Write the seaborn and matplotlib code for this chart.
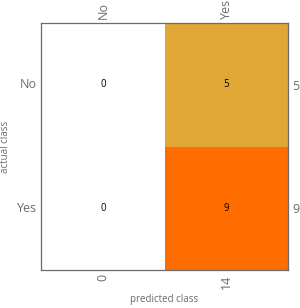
import numpy as np
import pandas as pd
import matplotlib
matplotlib.use("Agg")
import matplotlib.pyplot as plt
import seaborn as sns
from matplotlib.colors import LinearSegmentedColormap

# data
labels = ["No", "Yes"]
counts = [[0, 5],
          [0, 9]]
row_totals = ["5", "9"]
col_totals = ["0", "14"]

sns.set_style("white")
plt.rcParams['font.family'] = ['Open Sans', 'DejaVu Sans']

cm = pd.DataFrame(counts, index=labels, columns=labels)
cmap = LinearSegmentedColormap.from_list(
    "conf", [(0, "#ffffff"), (5 / 9, "#e1a736"), (1, "#ff6d00")])

gray = "#6b6b6b"
fig = plt.figure(figsize=(3.0, 3.08), dpi=100)
ax = fig.add_axes([0.137, 0.123, 0.823, 0.802])
sns.heatmap(cm, ax=ax, cmap=cmap, vmin=0, vmax=9, cbar=False,
            annot=True, fmt="d", annot_kws={"size": 7, "color": "black"})

for s in ax.spines.values():
    s.set_visible(True)
    s.set_color(gray)
    s.set_linewidth(0.9)

ax.set_xticklabels(col_totals, rotation=90)
ax.set_yticklabels(labels, rotation=0)
ax.tick_params(direction="in", length=3, color=gray, labelcolor=gray,
               labelsize=9, width=0.8, pad=3)

top = ax.secondary_xaxis("top")
top.set_xticks(ax.get_xticks())
top.set_xticklabels(labels, rotation=90)
top.tick_params(direction="in", length=3, color=gray, labelcolor=gray,
                labelsize=9, width=0.8, pad=3)
top.spines["top"].set_visible(False)

right = ax.secondary_yaxis("right")
right.set_yticks(ax.get_yticks())
right.set_yticklabels(row_totals)
right.tick_params(direction="in", length=3, color=gray, labelcolor=gray,
                  labelsize=9, width=0.8, pad=3)
right.spines["right"].set_visible(False)

ax.set_xlabel("predicted class", fontsize=7, color=gray, labelpad=4)
ax.set_ylabel("actual class", fontsize=7, color=gray, labelpad=4)

plt.savefig("out.png", dpi=100)
